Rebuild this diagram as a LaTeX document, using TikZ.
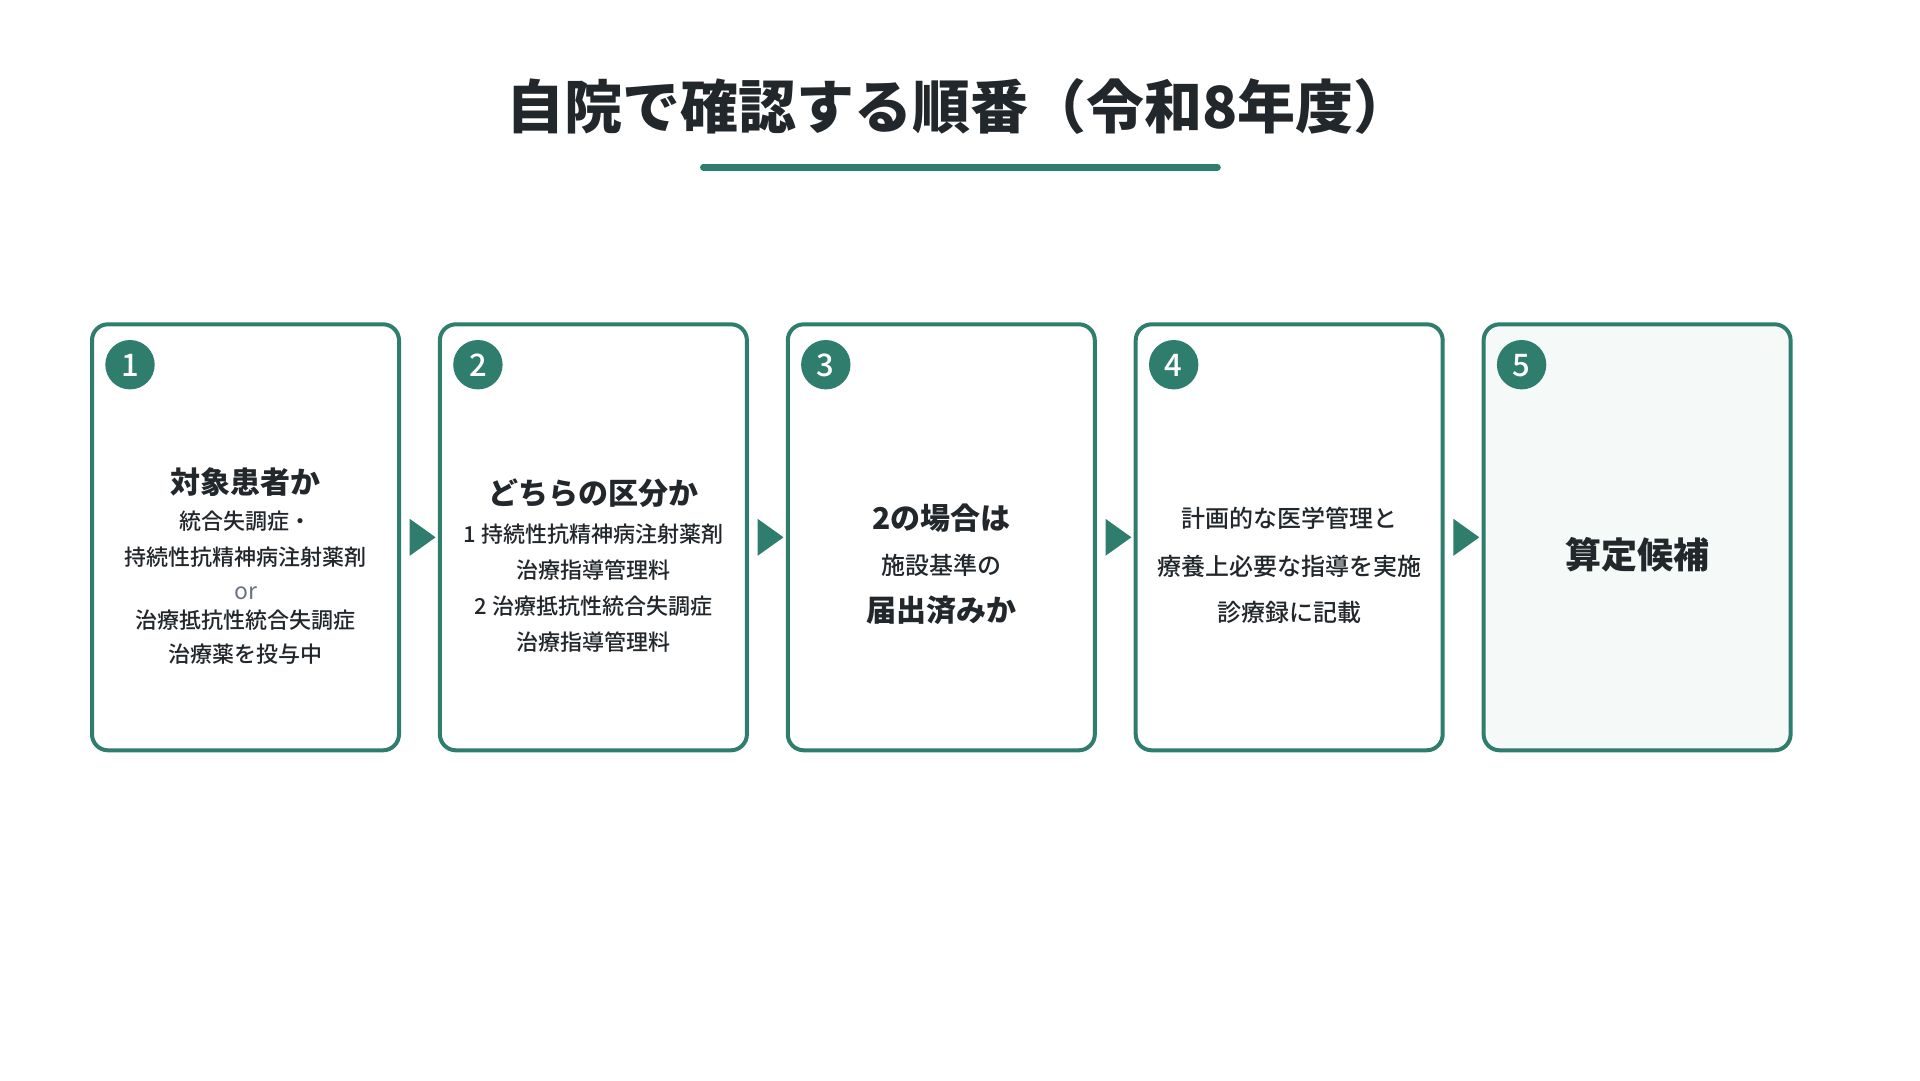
\documentclass[tikz,border=0pt]{standalone}
\usepackage{fontspec}
\setmainfont{Noto Sans CJK JP}
\newfontfamily\medfont{Noto Sans CJK JP}[UprightFont={* Medium}]
\usetikzlibrary{calc}
\definecolor{tealg}{HTML}{2F7D6D}
\definecolor{inkc}{HTML}{22272C}
\definecolor{orgray}{HTML}{6B7280}
\definecolor{lastfill}{HTML}{F5FAF8}
\tikzset{
  card/.style={draw=tealg,line width=4pt,rounded corners=16pt,minimum width=307pt,minimum height=426pt,fill=white,inner sep=0pt},
  badge/.style={circle,fill=tealg,minimum size=49.4pt,inner sep=0pt,text=white,text height=22.7pt,text depth=0pt,font=\medfont\fontsize{31}{31}\selectfont},
  headtxt/.style={anchor=base,text=inkc,inner sep=0pt,font=\bfseries\fontsize{30}{30}\selectfont},
  bigtxt/.style={anchor=base,text=inkc,inner sep=0pt,font=\bfseries\fontsize{36}{36}\selectfont},
  bodytxt/.style={anchor=base,text=inkc,inner sep=0pt,font=\medfont\fontsize{22}{22}\selectfont},
  bodylg/.style={anchor=base,text=inkc,inner sep=0pt,font=\medfont\fontsize{24}{24}\selectfont},
  ortxt/.style={anchor=base,text=orgray,inner sep=0pt,font=\fontsize{23}{23}\selectfont},
  titletxt/.style={anchor=base,text=inkc,inner sep=0pt,font=\bfseries\fontsize{58}{58}\selectfont},
  flowtri/.style={fill=tealg}
}
\begin{document}
\begin{tikzpicture}[x=1pt,y=-1pt]
\useasboundingbox[fill=white] (0,0) rectangle (1920,1080);
% title
\node[titletxt] (title) at (959,128) {自院で確認する順番（令和8年度）};
\coordinate (ulL) at (703.3,167.3);
\coordinate (ulR) at (1217.5,167.3);
\draw[tealg,line width=6.5pt,line cap=round] (ulL) -- (ulR);
% cards
\foreach \i/\x in {1/245.5,2/593.4,3/941.3,4/1289.2}{
  \node[card] (c\i) at (\x,537.3) {};
}
\node[card,fill=lastfill] (c5) at (1637.1,537.3) {};
\foreach \i in {1,...,5}{
  \node[badge] (b\i) at ($(c\i.north west)+(40,42.4)$) {\i};
}
% arrows
\foreach \a/\b in {1/2,2/3,3/4,4/5}{
  \coordinate (t\a a) at ($(c\a.east)+(8.7,-18.5)$);
  \coordinate (t\a b) at ($(c\a.east)+(8.7,18.5)$);
  \coordinate (t\a c) at ($(c\b.west)+(-2.3,0)$);
  \fill[flowtri] (t\a a) -- (t\a c) -- (t\a b) -- cycle;
}
% card 1
\node[headtxt] (h1) at (245.5,493) {対象患者か};
\node[bodytxt] (p1a) at (245.5,529.4) {統合失調症・};
\node[bodytxt] (p1b) at (245.5,565.7) {持続性抗精神病注射薬剤};
\node[ortxt] (p1c) at (245.5,599) {or};
\node[bodytxt] (p1d) at (245.5,628.4) {治療抵抗性統合失調症};
\node[bodytxt] (p1e) at (245.5,662.7) {治療薬を投与中};
% card 2
\node[headtxt] (h2) at (593.4,504.4) {どちらの区分か};
\node[bodytxt] (p2a) at (593.4,542.7) {1 持続性抗精神病注射薬剤};
\node[bodytxt] (p2b) at (593.4,578.4) {治療指導管理料};
\node[bodytxt] (p2c) at (593.4,614.4) {2 治療抵抗性統合失調症};
\node[bodytxt] (p2d) at (593.4,650.1) {治療指導管理料};
% card 3
\node[headtxt] (h3) at (941.3,529.7) {2の場合は};
\node[bodylg] (p3a) at (941.3,574.1) {施設基準の};
\node[headtxt] (p3b) at (941.3,621.4) {届出済みか};
% card 4
\node[bodylg] (p4a) at (1289.2,527.4) {計画的な医学管理と};
\node[bodylg] (p4b) at (1289.2,575.1) {療養上必要な指導を実施};
\node[bodylg] (p4c) at (1289.2,621.8) {診療録に記載};
% card 5
\node[bigtxt] (h5) at (1637.1,568.7) {算定候補};
\end{tikzpicture}
\end{document}
